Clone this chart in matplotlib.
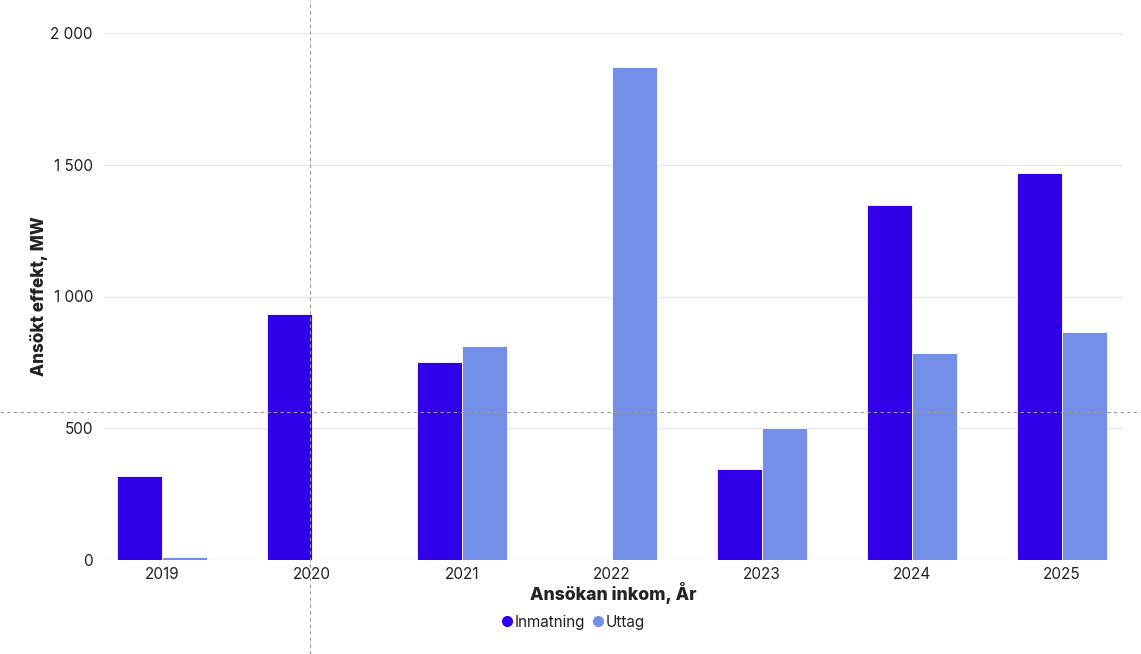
import numpy as np
import matplotlib.pyplot as plt
from matplotlib.lines import Line2D

years = ["2019", "2020", "2021", "2022", "2023", "2024", "2025"]
inmatning = [320, 934, 751, 0, 345, 1347, 1469]
uttag = [11, 0, 812, 1871, 500, 784, 865]
yticks = [0, 500, 1000, 1500, 2000]

c_inm = "#3100e8"
c_utt = "#738fea"

plt.rcParams['font.family'] = ['Inter', 'DejaVu Sans']

fig = plt.figure(figsize=(11.41, 6.54), dpi=100)
ax = fig.add_axes([104/1141, 94/654, (1123-104)/1141, (560-33)/654])

x = np.arange(len(years))
w = 0.3
ax.bar(x - w/2, inmatning, w, color=c_inm, edgecolor="white", linewidth=0.6, zorder=3)
ax.bar(x + w/2, uttag, w, color=c_utt, edgecolor="white", linewidth=0.6, zorder=3)

ax.set_xlim(-0.39, 6.41)
ax.set_ylim(0, 2000)
ax.set_yticks(yticks)
ax.set_yticklabels([f"{v:,}".replace(",", " ") for v in yticks])
ax.set_xticks(x)
ax.set_xticklabels(years)
ax.tick_params(axis="both", length=0, labelsize=11, colors="#222222")
ax.tick_params(axis="y", pad=8)
ax.tick_params(axis="x", pad=5)
ax.grid(axis="y", color="#e6e6e6", linewidth=1, zorder=0)
for s in ax.spines.values():
    s.set_visible(False)

ax.set_xlabel("Ansökan inkom, År", fontsize=12.7, fontweight="heavy", color="#222222", labelpad=0)
ax.set_ylabel("Ansökt effekt, MW", fontsize=12.3, fontweight="heavy", color="#222222", labelpad=2)

handles = [Line2D([], [], marker="o", linestyle="", color=c_inm, markersize=7),
           Line2D([], [], marker="o", linestyle="", color=c_utt, markersize=7)]
fig.legend(handles, ["Inmatning", "Uttag"], loc="center", bbox_to_anchor=(572/1141, 1 - 622/654),
           ncol=2, frameon=False, fontsize=11, handletextpad=0.0, columnspacing=0.3,
           handlelength=1.0, labelcolor="#222222")

# crosshair
fig.add_artist(Line2D([310/1141, 310/1141], [0, 1], transform=fig.transFigure,
                      color="#999999", linestyle=(0, (3, 3)), linewidth=0.8, zorder=5))
fig.add_artist(Line2D([0, 1], [1 - 412/654, 1 - 412/654], transform=fig.transFigure,
                      color="#999999", linestyle=(0, (3, 3)), linewidth=0.8, zorder=5))

fig.savefig("out.png", dpi=100)
